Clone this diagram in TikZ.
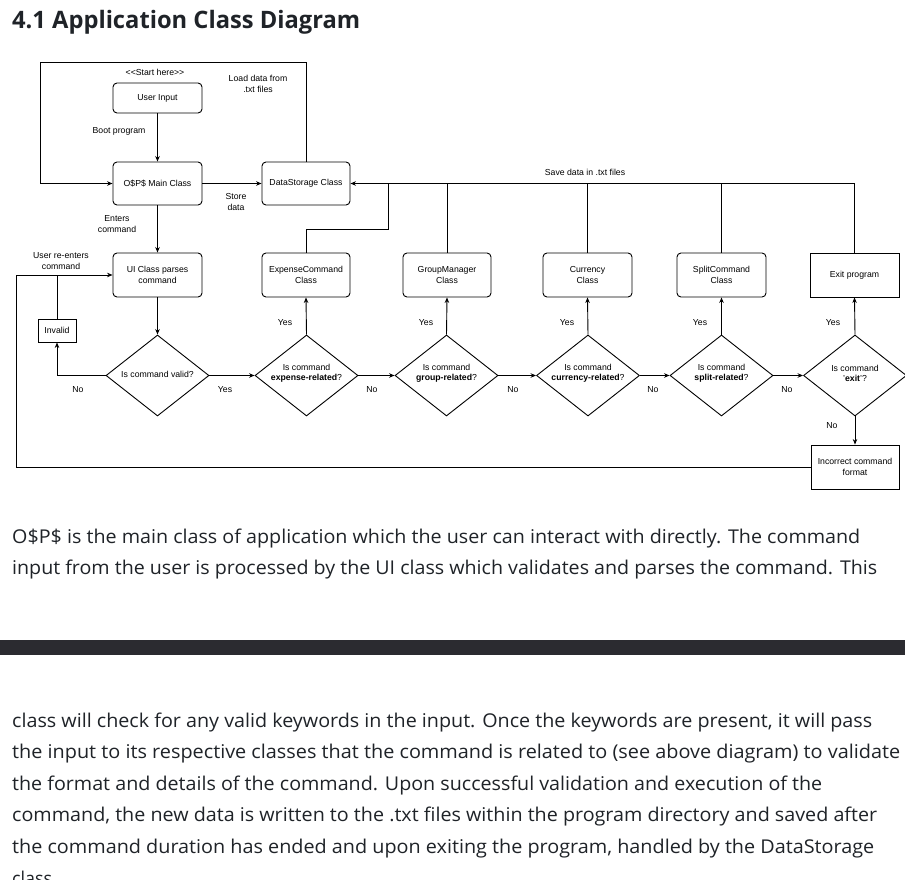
\documentclass[tikz,border=0pt]{standalone}
\usepackage{fontspec}
\usepackage{graphicx}
\setmainfont{Liberation Sans}
\newfontfamily\bodyfam{Open Sans}
\usetikzlibrary{shapes.geometric,arrows.meta}
\definecolor{txtcol}{HTML}{1F2328}
\definecolor{barcol}{HTML}{2B2B30}
\newcommand\dgmfont{\fontsize{8.7}{10.4}\selectfont}
\newcommand\fitw[2]{\resizebox{#1pt}{\height}{#2}}
\begin{document}
\begin{tikzpicture}[x=1pt,y=-1pt,
  every node/.style={inner sep=0pt},
  cbox/.style={draw, rounded corners=4pt, minimum width=89pt, minimum height=44pt, align=center, font=\dgmfont, line width=0.9pt},
  sbox/.style={draw, minimum width=89pt, minimum height=44pt, align=center, font=\dgmfont, line width=0.9pt},
  dia/.style={draw, diamond, minimum width=103pt, minimum height=81pt, line width=0.9pt},
  lbl/.style={font=\dgmfont, align=center},
  arr/.style={line width=0.9pt, -{Stealth[length=5.5pt,width=4.5pt]}},
  ln/.style={line width=0.9pt},
  body/.style={anchor=base west, font=\bodyfam\fontsize{19}{24}\selectfont, text=txtcol}
]
\useasboundingbox (0,0) rectangle (905,880);
\fill[white] (0,0) rectangle (905,880);

% heading
\node[anchor=base west, font=\bodyfam\bfseries\fontsize{24}{28}\selectfont, text=txtcol] (title) at (12,28.5) {\fitw{348}{4.1 Application Class Diagram}};

% top column
\node[cbox, minimum height=30pt] (user) at (157.5,98) {User Input};
\node[lbl] (start) at (155,72) {{<}{<}Start here{>}{>}};
\node[cbox, minimum height=43pt] (main) at (157.5,183.5) {O\$P\$ Main Class};
\node[cbox, minimum height=43pt, minimum width=88pt] (ds) at (306,183.5) {DataStorage Class};
\node[cbox] (ui) at (157.5,275) {UI Class parses\\command};
\node[sbox, minimum width=38pt, minimum height=23pt] (invalid) at (57,330.5) {Invalid};

% diamonds
\node[dia] (valid) at (157.5,375.5) {};
\node[lbl] (validt) at (157.5,374) {Is command valid?};
\node[dia] (exp) at (306.5,375.5) {};
\node[lbl] (expt) at (306.5,373.5) {Is command\\\textbf{expense-related}?};
\node[dia] (grp) at (446.5,375.5) {};
\node[lbl] (grpt) at (446.5,373.5) {Is command\\\textbf{group-related}?};
\node[dia] (cur) at (588,375.5) {};
\node[lbl] (curt) at (588,373.5) {Is command\\\textbf{currency-related}?};
\node[dia] (spl) at (721.5,375.5) {};
\node[lbl] (splt) at (721.5,373.5) {Is command\\\textbf{split-related}?};
\node[dia] (ext) at (855,375.5) {};
\node[lbl] (extt) at (855,373.5) {Is command\\'\textbf{exit}'?};

% class boxes
\node[cbox, minimum width=88pt] (expc) at (306,275) {ExpenseCommand\\Class};
\node[cbox, minimum width=88pt] (grpc) at (447,275) {GroupManager\\Class};
\node[cbox] (curc) at (587.5,275) {Currency\\Class};
\node[cbox] (splc) at (721.5,275) {SplitCommand\\Class};
\node[sbox] (exitp) at (854.5,275) {Exit program};
\node[sbox, minimum width=88pt] (incorrect) at (855,467) {Incorrect command\\format};

% coordinates
\coordinate (lt) at (40,62);
\coordinate (lb) at (40,183.5);
\coordinate (rl) at (16,275);
\coordinate (ej) at (388,229);

% connectors
\draw[arr] (user.south) -- (main.north);
\draw[arr] (ds.north) |- (lt) -- (lb) -- (main.west);
\draw[arr] (main.east) -- (ds.west);
\draw[arr] (main.south) -- (ui.north);
\draw[arr] (ui.south) -- (valid.north);
\draw[arr] (valid.west) -| (invalid.south);
\draw[ln] (invalid.north) -- (invalid.north |- ui.west);
\draw[arr] (incorrect.west) -| (rl) -- (ui.west);
\draw[arr] (valid.east) -- (exp.west);
\draw[arr] (exp.east) -- (grp.west);
\draw[arr] (grp.east) -- (cur.west);
\draw[arr] (cur.east) -- (spl.west);
\draw[arr] (spl.east) -- (ext.west);
\draw[arr] (exp.north) -- (expc.south);
\draw[arr] (grp.north) -- (grpc.south);
\draw[arr] (cur.north) -- (curc.south);
\draw[arr] (spl.north) -- (splc.south);
\draw[arr] (ext.north) -- (exitp.south);
\draw[arr] (ext.south) -- (incorrect.north);
\draw[arr] (exitp.north) |- (ds.east);
\draw[ln] (splc.north) -- (splc.north |- ds.east);
\draw[ln] (curc.north) -- (curc.north |- ds.east);
\draw[ln] (grpc.north) -- (grpc.north |- ds.east);
\draw[ln] (expc.north) |- (ej) -- (ej |- ds.east);

% labels
\node[lbl] (l1) at (258,84) {Load data from\\.txt files};
\node[lbl] (l2) at (119,131) {Boot program};
\node[lbl] (l3) at (236,202) {Store\\data};
\node[lbl] (l4) at (117,224) {Enters\\command};
\node[lbl] (l5) at (61,261) {User re-enters\\command};
\node[lbl] (l6) at (585,172) {Save data in .txt files};
\node[lbl] (n1) at (78,389.5) {No};
\node[lbl] (y1) at (225,389.5) {Yes};
\node[lbl] (n2) at (372,389.5) {No};
\node[lbl] (n3) at (513,389.5) {No};
\node[lbl] (n4) at (653,389.5) {No};
\node[lbl] (n5) at (787,389.5) {No};
\node[lbl] (n6) at (832,426) {No};
\node[lbl] (y2) at (285,322.5) {Yes};
\node[lbl] (y3) at (426,322.5) {Yes};
\node[lbl] (y4) at (567,322.5) {Yes};
\node[lbl] (y5) at (700,322.5) {Yes};
\node[lbl] (y6) at (833,322.5) {Yes};

% body text
\node[body] (p1a) at (12,543) {\fitw{848}{O\$P\$ is the main class of application which the user can interact with directly. The command}};
\node[body] (p1b) at (12,574.5) {\fitw{865}{input from the user is processed by the UI class which validates and parses the command. This}};
\fill[barcol] (0,640) rectangle (905,655);
\node[body] (p2a) at (12,727) {\fitw{860}{class will check for any valid keywords in the input. Once the keywords are present, it will pass}};
\node[body] (p2b) at (12,758.6) {\fitw{888}{the input to its respective classes that the command is related to (see above diagram) to validate}};
\node[body] (p2c) at (12,790.2) {\fitw{810}{the format and details of the command. Upon successful validation and execution of the}};
\node[body] (p2d) at (12,821.8) {\fitw{865}{command, the new data is written to the .txt files within the program directory and saved after}};
\node[body] (p2e) at (12,853.4) {\fitw{862}{the command duration has ended and upon exiting the program, handled by the DataStorage}};
\node[body] (p2f) at (12,885) {\fitw{40}{class}};
\end{tikzpicture}
\end{document}
